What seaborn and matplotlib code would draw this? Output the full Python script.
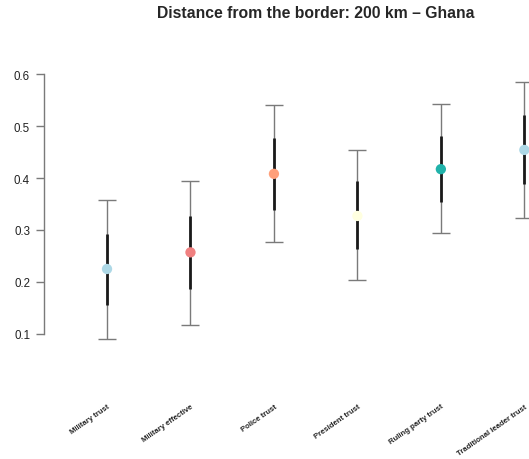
import matplotlib
matplotlib.use("Agg")
import matplotlib.pyplot as plt
import seaborn as sns
import pandas as pd

# Estimates with 95% (thin) and inner (thick) intervals
categories = ["Military trust", "Military effective", "Police trust",
              "President trust", "Ruling party trust", "Traditional leader trust"]
estimate = [0.225, 0.257, 0.408, 0.327, 0.417, 0.454]
outer_low = [0.090, 0.118, 0.276, 0.203, 0.294, 0.324]
outer_high = [0.358, 0.395, 0.540, 0.454, 0.542, 0.585]
inner_low = [0.156, 0.187, 0.339, 0.263, 0.353, 0.388]
inner_high = [0.292, 0.326, 0.476, 0.395, 0.481, 0.521]
colors = ["#ADD8E6", "#F08080", "#FFA07A", "#FFFFE0", "#20B2AA", "#ADD8E6"]

sns.set_style("white")
plt.rcParams["font.family"] = ["Liberation Sans", "DejaVu Sans"]

df = pd.DataFrame({
    "pos": list(range(1, len(categories) + 1)),
    "estimate": estimate,
    "category": categories,
})

fig = plt.figure(figsize=(5.29, 4.60), dpi=100)
ax = fig.add_axes([44 / 529, 1 - 355 / 460, (529 - 44) / 529, 300 / 460])

# outer intervals with caps
ax.errorbar(df["pos"], df["estimate"],
            yerr=[[e - l for e, l in zip(estimate, outer_low)],
                  [h - e for e, h in zip(estimate, outer_high)]],
            fmt="none", ecolor="#7a7a7a", elinewidth=1.0, capsize=6.5,
            capthick=1.0, zorder=1)
# inner intervals
ax.vlines(df["pos"], inner_low, inner_high, color="#1a1a1a", lw=2.0, zorder=2)

sns.scatterplot(data=df, x="pos", y="estimate", hue="category",
                palette=colors, s=55, edgecolor="none", legend=False,
                ax=ax, zorder=3)

ax.set_xlim(0.245, 6.056)
ax.set_ylim(0.0615, 0.6385)
ax.set_xlabel("")
ax.set_ylabel("")

ax.set_yticks([0.1, 0.2, 0.3, 0.4, 0.5, 0.6])
ax.set_yticklabels(["0.1", "0.2", "0.3", "0.4", "0.5", "0.6"])
ax.tick_params(axis="y", length=6, width=1, color="#7a7a7a",
               labelsize=8.3, labelcolor="#222222", pad=4, left=True)

ax.set_xticks(df["pos"])
ax.set_xticklabels(categories, rotation=35, ha="right",
                   rotation_mode="anchor", fontsize=5.6, fontweight="bold")
ax.tick_params(axis="x", length=0, pad=35)

for side in ["top", "right", "bottom"]:
    ax.spines[side].set_visible(False)
ax.spines["left"].set_bounds(0.1, 0.6)
ax.spines["left"].set_color("#7a7a7a")
ax.spines["left"].set_linewidth(1)

fig.text(316 / 529, 1 - 13 / 460, "Distance from the border: 200 km \u2013 Ghana",
         ha="center", va="center", fontsize=11.3, fontweight="bold")

fig.savefig("out.png", dpi=100)
